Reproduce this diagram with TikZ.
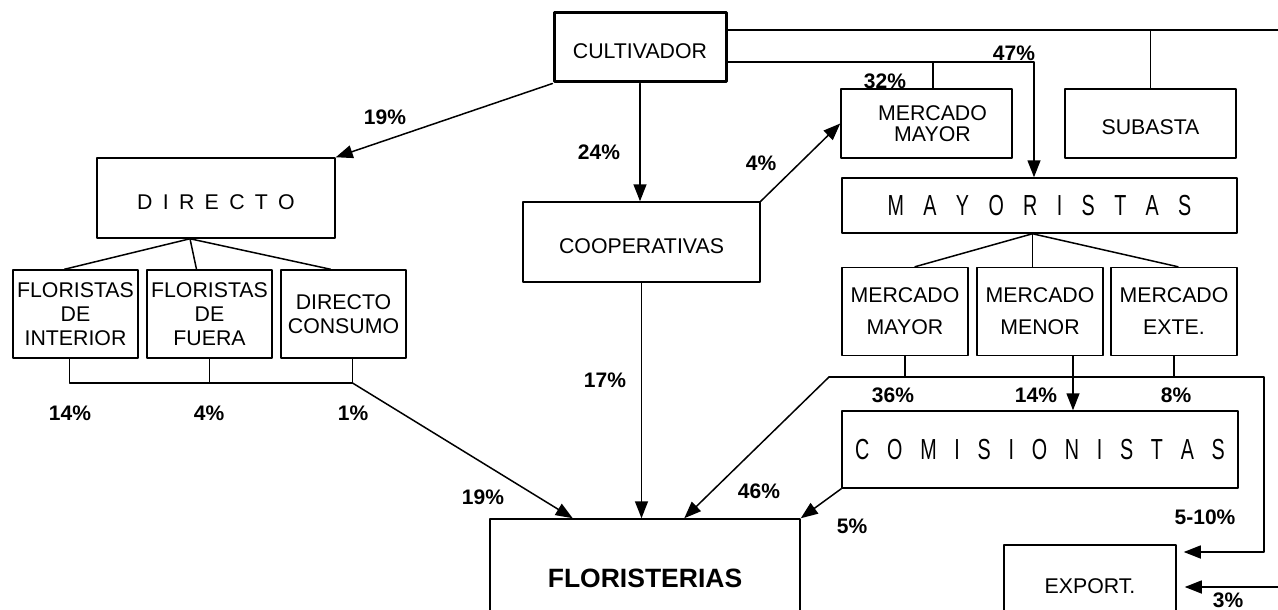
\documentclass[tikz,border=0pt]{standalone}
\usepackage{fontspec}
\setmainfont{Liberation Sans}
\usepackage{graphicx}
\usetikzlibrary{arrows.meta,calc}
\newcommand{\dgap}{\kern10.3pt}
\newcommand{\mgap}{\kern28.5pt}
\newcommand{\cgap}{\kern26.1pt}

\begin{document}
\begin{tikzpicture}[line cap=round,line join=round,>={Triangle[length=17pt,width=13pt]},x=1pt,y=-1pt,
  box/.style={draw,line width=1.5pt,inner sep=0pt,align=center,font=\fontsize{21.3}{24}\selectfont},
  low/.style={text height=23pt},
  pct/.style={inner sep=0pt,font=\fontsize{21}{21}\selectfont\bfseries},
  conn/.style={line width=1.5pt}]
            \useasboundingbox (0,0) rectangle (1278,610);
            \clip (0,0) rectangle (1278,610);
            % boxes
            \node[box,low,line width=3pt,minimum width=172pt,minimum height=69pt] (cult) at (640,47.5) {CULTIVADOR};
            \node[box,minimum width=171pt,minimum height=69pt,font=\fontsize{21.3}{21.5}\selectfont] (mmayor) at (926.5,123.5) {\hspace*{12pt}MERCADO\\\hspace*{12pt}MAYOR};
            \node[box,low,minimum width=171pt,minimum height=69pt] (subasta) at (1150.5,123.5) {SUBASTA};
            \node[box,low,minimum width=238pt,minimum height=80pt] (directo) at (216,198) {D\dgap I\dgap R\dgap E\dgap C\dgap T\dgap O};
            \node[box,low,minimum width=237pt,minimum height=80pt] (coop) at (641.5,242) {COOPERATIVAS};
            \node[box,minimum width=395pt,minimum height=55pt] (mayor) at (1039.5,205.5) {\scalebox{0.68}[1]{\fontsize{29}{29}\selectfont M\mgap A\mgap Y\mgap O\mgap R\mgap I\mgap S\mgap T\mgap A\mgap S}};
            \node[box,minimum width=125pt,minimum height=88pt] (fint) at (75.5,314) {FLORISTAS\\DE\\INTERIOR};
            \node[box,minimum width=125pt,minimum height=88pt] (ffue) at (209.5,314) {FLORISTAS\\DE\\FUERA};
            \node[box,minimum width=125pt,minimum height=88pt] (dcons) at (343.5,314) {DIRECTO\\CONSUMO};
            \node[box,minimum width=126pt,minimum height=88pt,font=\fontsize{21.3}{32}\selectfont] (mmay) at (905,311.5) {MERCADO\\MAYOR};
            \node[box,minimum width=126pt,minimum height=88pt,font=\fontsize{21.3}{32}\selectfont] (mmen) at (1040,311.5) {MERCADO\\MENOR};
            \node[box,minimum width=126pt,minimum height=88pt,font=\fontsize{21.3}{32}\selectfont] (mext) at (1174,311.5) {MERCADO\\EXTE.};
            \node[box,minimum width=396pt,minimum height=77pt] (comis) at (1040,449.5) {\scalebox{0.68}[1]{\fontsize{29}{29}\selectfont C\cgap O\cgap M\cgap I\cgap S\cgap I\cgap O\cgap N\cgap I\cgap S\cgap T\cgap A\cgap S}};
            \node[box,minimum width=310pt,minimum height=118pt,font=\fontsize{26.5}{26.5}\selectfont\bfseries] (flor) at (645,578) {FLORISTERIAS};
            \node[box,minimum width=172pt,minimum height=82pt] (export) at (1090,586) {EXPORT.};
            % lines from cultivador
            \coordinate (topr) at (1278,30);
            \coordinate (k47) at (1034,62);
            \coordinate (mmb) at ([xshift=6.5pt]mmayor.north);
            \draw[conn] (cult.east |- topr) -- (topr);
            \draw[conn] (subasta.north) -- (subasta.north |- topr);
            \draw[conn,->] (cult.east |- k47) -- (k47) -- (k47 |- mayor.north);
            \draw[conn] (mmb) -- (mmb |- k47);
            \draw[conn,->] (cult.south west) -- (directo.north east);
            \draw[conn,->] (cult.south) -- (cult.south |- coop.north);
            \draw[conn,->] (coop.north east) -- (mmayor.west);
            \draw[conn,->] (coop.south) -- (coop.south |- flor.north);
            % directo
            \coordinate (dfan) at ([xshift=-26pt]directo.south);
            \draw[conn] (dfan) -- ([xshift=-11pt]fint.north);
            \draw[conn] (dfan) -- ([xshift=-13pt]ffue.north);
            \draw[conn] (dfan) -- ([xshift=-13pt]dcons.north);
            \coordinate (dbar) at (0,383);
            \coordinate (b1) at ([xshift=-6pt]fint.south);
            \coordinate (b3) at ([xshift=9pt]dcons.south);
            \draw[conn] (b1) -- (b1 |- dbar) -- (b3 |- dbar) -- (b3);
            \draw[conn] (ffue.south) -- (ffue.south |- dbar);
            \draw[conn,->] (b3 |- dbar) -- ($(flor.north west)!0.268!(flor.north east)$);
            % mayoristas
            \coordinate (mfan) at ([xshift=-7pt]mayor.south);
            \draw[conn] (mfan) -- ([xshift=10pt]mmay.north);
            \draw[conn] (mfan) -- (mfan |- mmen.north);
            \draw[conn] (mfan) -- ([xshift=4pt]mext.north);
            \coordinate (mbl) at (829,377);
            \coordinate (mbr) at (1264,377);
            \coordinate (xin) at (1264,552);
            \draw[conn] (mmay.south) -- (mmay.south |- mbl);
            \draw[conn] (mext.south) -- (mext.south |- mbl);
            \draw[conn,->,shorten >=7pt] (mbl) -- (mbr) -- (xin) -- (xin -| export.east);
            \draw[conn,->] (mbl) -- ($(flor.north west)!0.626!(flor.north east)$);
            \coordinate (menx) at ([xshift=33pt]mmen.south);
            \draw[conn,->] (menx) -- (menx |- comis.north);
            \draw[conn,->] (comis.south west) -- (flor.north east);
            \coordinate (exr) at (1278,587);
            \draw[conn,->,shorten >=8pt] (exr) -- (exr -| export.east);
            % percentages
            \node[pct] (p19a) at (385,117) {19\%};
            \node[pct] (p24) at (599,152) {24\%};
            \node[pct] (p4a) at (761,163) {4\%};
            \node[pct] (p32) at (885,81) {32\%};
            \node[pct] (p47) at (1014,53) {47\%};
            \node[pct] (p14a) at (70,413) {14\%};
            \node[pct] (p4b) at (209,413) {4\%};
            \node[pct] (p1) at (353,413) {1\%};
            \node[pct] (p17) at (605,380) {17\%};
            \node[pct] (p19b) at (483,497) {19\%};
            \node[pct] (p46) at (759,491) {46\%};
            \node[pct] (p36) at (893,395) {36\%};
            \node[pct] (p14b) at (1036,395) {14\%};
            \node[pct] (p8) at (1176,395) {8\%};
            \node[pct] (p5) at (852,526) {5\%};
            \node[pct] (p510) at (1205,517) {5-10\%};
            \node[pct] (p3) at (1228,600) {3\%};
\end{tikzpicture}
\end{document}
